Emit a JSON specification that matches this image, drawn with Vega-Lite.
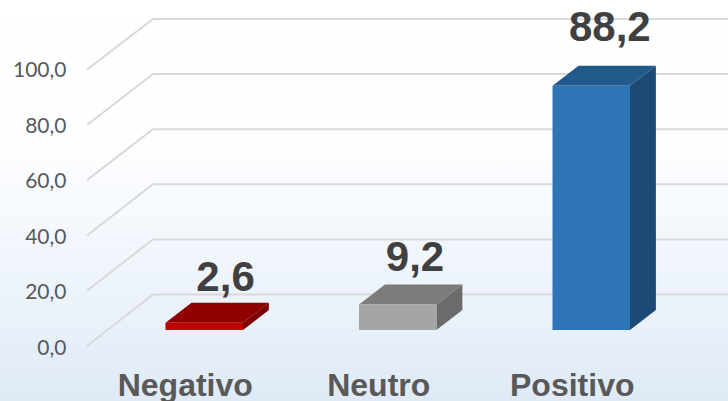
{
"$schema":"https://vega.github.io/schema/vega-lite/v6.json",
"width":728,"height":401,"padding":0,"autosize":{"type":"none"},
"background":"#ffffff",
"view":{"stroke":null,"fill":{"gradient":"linear","x1":0,"y1":0,"x2":0,"y2":1,"stops":[{"offset":0,"color":"#ffffff"},{"offset":0.35,"color":"#fdfeff"},{"offset":0.6,"color":"#f3f7fd"},{"offset":0.82,"color":"#e8f0f9"},{"offset":1,"color":"#dfeaf6"}]}},
"config":{"locale":{"number":{"decimal":",","thousands":".","grouping":[3],"currency":["","€"]}}},
"datasets":{
"rejilla":[
{"serie":0,"pos":0.394,"nivel":-5.8},{"serie":0,"pos":0.735,"nivel":12.8},{"serie":0,"pos":3.7067,"nivel":12.8},
{"serie":20,"pos":0.394,"nivel":14.2},{"serie":20,"pos":0.735,"nivel":32.7},{"serie":20,"pos":3.7067,"nivel":32.7},
{"serie":40,"pos":0.394,"nivel":34.1},{"serie":40,"pos":0.735,"nivel":52.6},{"serie":40,"pos":3.7067,"nivel":52.6},
{"serie":60,"pos":0.394,"nivel":54.1},{"serie":60,"pos":0.735,"nivel":72.5},{"serie":60,"pos":3.7067,"nivel":72.5},
{"serie":80,"pos":0.394,"nivel":74},{"serie":80,"pos":0.735,"nivel":92.4},{"serie":80,"pos":3.7067,"nivel":92.4},
{"serie":100,"pos":0.394,"nivel":94},{"serie":100,"pos":0.735,"nivel":112.3},{"serie":100,"pos":3.7067,"nivel":112.3}
],
"barras":[
{"categoria":"Negativo","valor":2.6,"pos":1,"pos_etiqueta":1.11,"altura_etiqueta":14.1},
{"categoria":"Neutro","valor":9.2,"pos":2,"pos_etiqueta":2.089,"altura_etiqueta":21.4},
{"categoria":"Positivo","valor":88.2,"pos":3,"pos_etiqueta":3.096,"altura_etiqueta":104.4}
],
"caras":[
{"cara":"Negativo lado","pos":1.2,"bajo":0,"alto":2.6},{"cara":"Negativo lado","pos":1.334,"bajo":7.2,"alto":9.8},
{"cara":"Negativo tapa","pos":0.8,"bajo":2.6,"alto":2.6},{"cara":"Negativo tapa","pos":0.934,"bajo":2.6,"alto":9.8},{"cara":"Negativo tapa","pos":1.2,"bajo":2.6,"alto":9.8},{"cara":"Negativo tapa","pos":1.334,"bajo":9.8,"alto":9.8},
{"cara":"Neutro lado","pos":2.2,"bajo":0,"alto":9.2},{"cara":"Neutro lado","pos":2.334,"bajo":7.2,"alto":16.4},
{"cara":"Neutro tapa","pos":1.8,"bajo":9.2,"alto":9.2},{"cara":"Neutro tapa","pos":1.934,"bajo":9.2,"alto":16.4},{"cara":"Neutro tapa","pos":2.2,"bajo":9.2,"alto":16.4},{"cara":"Neutro tapa","pos":2.334,"bajo":16.4,"alto":16.4},
{"cara":"Positivo lado","pos":3.2,"bajo":0,"alto":88.2},{"cara":"Positivo lado","pos":3.334,"bajo":7.2,"alto":95.4},
{"cara":"Positivo tapa","pos":2.8,"bajo":88.2,"alto":88.2},{"cara":"Positivo tapa","pos":2.934,"bajo":88.2,"alto":95.4},{"cara":"Positivo tapa","pos":3.2,"bajo":88.2,"alto":95.4},{"cara":"Positivo tapa","pos":3.334,"bajo":95.4,"alto":95.4}
]},
"encoding":{"x":{"field":"pos","type":"quantitative","scale":{"domain":[-0.0556,3.7067],"nice":false,"zero":false,"padding":0},
"axis":{"title":null,"domain":false,"ticks":false,"grid":false,"values":[1,2,3],"labelExpr":"datum.value==1?'Negativo':datum.value==2?'Neutro':'Positivo'","labelFont":"Liberation Sans","labelFontWeight":"bold","labelFontSize":32,"labelColor":"#595959","labelBaseline":"middle","labelPadding":-16,"labelOffset":-19.5,"labelOverlap":false,"labelFlush":false,"labelBound":false}}},
"layer":[
{"data":{"name":"rejilla"},"mark":{"type":"line","color":"#d9d9d9","strokeWidth":2,"interpolate":"linear"},
"encoding":{"detail":{"field":"serie"},"y":{"field":"nivel","type":"quantitative","scale":{"domain":[-25.63,119.13],"nice":false,"zero":false},
"axis":{"title":null,"domain":false,"ticks":false,"grid":false,"values":[0,20,40,60,80,100],"format":".1f","labelFont":"Lato","labelFontSize":21,"labelColor":"#595959","labelAlign":"right","labelBaseline":"middle","labelPadding":-66,"labelOffset":18,"labelBound":false,"labelFlush":false,"labelOverlap":false}}}},
{"data":{"name":"caras"},"mark":{"type":"area","orient":"vertical","opacity":1},
"encoding":{"y":{"field":"bajo","type":"quantitative","stack":null,"scale":{"domain":[-25.63,119.13],"nice":false,"zero":false}},"y2":{"field":"alto"},
"color":{"field":"cara","type":"nominal","legend":null,"scale":{"domain":["Negativo lado","Negativo tapa","Neutro lado","Neutro tapa","Positivo lado","Positivo tapa"],"range":["#7c0000","#900000","#6b6b6b","#7c7c7c","#1c4a75","#225a8c"]}}}},
{"data":{"name":"barras"},"mark":{"type":"bar","size":77.5},
"encoding":{"y":{"field":"valor","type":"quantitative","stack":null,"scale":{"domain":[-25.63,119.13],"nice":false,"zero":false}},"y2":{"datum":0},
"fill":{"field":"categoria","type":"nominal","legend":null,"scale":{"domain":["Negativo","Neutro","Positivo"],"range":["#c00000","#a5a5a5","#2e75b6"]}}}},
{"data":{"name":"barras"},"mark":{"type":"text","font":"Liberation Sans","fontWeight":"bold","fontSize":42,"color":"#404040","align":"center","baseline":"alphabetic"},
"encoding":{"x":{"field":"pos_etiqueta","type":"quantitative","scale":{"domain":[-0.0556,3.7067],"nice":false,"zero":false,"padding":0}},"y":{"field":"altura_etiqueta","type":"quantitative","scale":{"domain":[-25.63,119.13],"nice":false,"zero":false}},"text":{"field":"valor","type":"quantitative","format":".1f"}}}
]
}
